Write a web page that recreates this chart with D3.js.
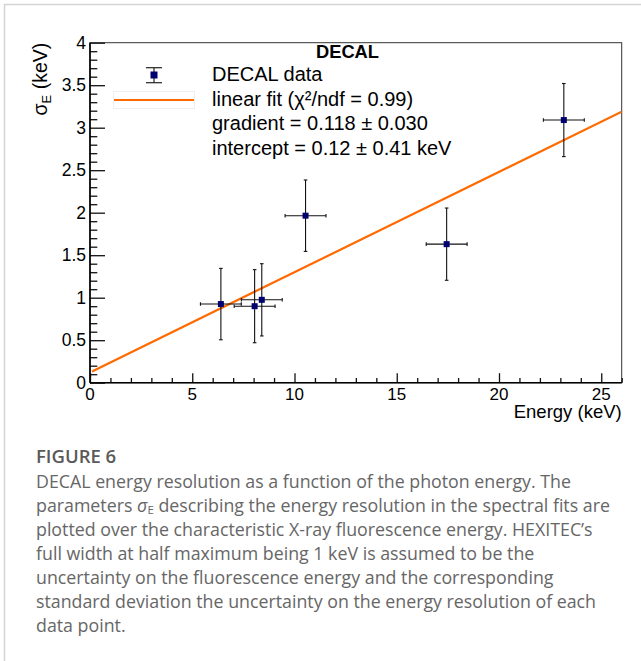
<!DOCTYPE html>
<html>
<head>
<meta charset="utf-8">
<script src="https://cdn.jsdelivr.net/npm/d3@7"></script>
<style>
  body { margin: 0; background: #fff; }
  svg { display: block; }
</style>
</head>
<body>
<div id="chart-area"></div>
<script>
// data
const energy = [6.4, 8.05, 8.4, 10.54, 17.44, 23.17]
const energyErr = [1.0, 1.0, 1.0, 1.0, 1.0, 1.0]
const sigma = [0.925, 0.90, 0.975, 1.965, 1.63, 3.09]
const sigmaErr = [0.42, 0.43, 0.425, 0.42, 0.425, 0.43]
const fitGradient = 0.118
const fitIntercept = 0.12
const xTicks = [0, 5, 10, 15, 20, 25]
const yTicks = [0, 0.5, 1, 1.5, 2, 2.5, 3, 3.5, 4]
const legendLines = ["DECAL data", "linear fit (χ²/ndf = 0.99)", "gradient = 0.118 ± 0.030", "intercept = 0.12 ± 0.41 keV"]
const captionLines = [
  "DECAL energy resolution as a function of the photon energy. The",
  "parameters σE describing the energy resolution in the spectral fits are",
  "plotted over the characteristic X-ray fluorescence energy. HEXITEC’s",
  "full width at half maximum being 1 keV is assumed to be the",
  "uncertainty on the fluorescence energy and the corresponding",
  "standard deviation the uncertainty on the energy resolution of each",
  "data point."
]

const dataset = energy.map((e, i) => ({ x: e, ex: energyErr[i], y: sigma[i], ey: sigmaErr[i] }))

const svgWidth = 641
const svgHeight = 661
const margin = { left: 90, top: 42.7, right: 19.3, bottom: 278.3 }
const chartWidth = svgWidth - margin.left - margin.right
const chartHeight = svgHeight - margin.top - margin.bottom
const rootFont = "'Liberation Sans', Arial, Helvetica, sans-serif"

const svg = d3.select("#chart-area")
  .append("svg")
  .attr("width", svgWidth)
  .attr("height", svgHeight)

// card border
svg.append("path")
  .attr("d", `M4.5,${svgHeight + 2} V4.5 H${svgWidth + 2}`)
  .attr("fill", "none")
  .attr("stroke", "#d4d4d4")
  .attr("stroke-width", 1.5)

const chart = svg.append("g")
  .attr("transform", `translate(${margin.left},${margin.top})`)

const xScale = d3.scaleLinear().domain([0, 26]).range([0, chartWidth])
const yScale = d3.scaleLinear().domain([0, 4]).range([chartHeight, 0])

chart.append("defs").append("clipPath").attr("id", "clip")
  .append("rect").attr("width", chartWidth).attr("height", chartHeight)

// frame
chart.append("rect")
  .attr("width", chartWidth)
  .attr("height", chartHeight)
  .attr("fill", "none")
  .attr("stroke", "#333")
  .attr("stroke-width", 1)

// x axis: major + minor ticks pointing up
const xMinor = d3.range(0, 26.01, 1).filter(v => v % 5 !== 0)
const xAxis = chart.append("g")
  .attr("transform", `translate(0,${chartHeight})`)
xAxis.append("g")
  .call(d3.axisTop(xScale).tickValues(xMinor).tickSize(4.7).tickFormat(""))
xAxis.append("g")
  .call(d3.axisTop(xScale).tickValues(xTicks).tickSize(9.5).tickFormat(""))
xAxis.selectAll(".domain").remove()
xAxis.selectAll("line").attr("stroke", "#111").attr("stroke-width", 1.3)
xAxis.append("g")
  .selectAll("text")
  .data(xTicks)
  .join("text")
  .attr("x", d => xScale(d))
  .attr("y", 400 - margin.top - chartHeight)
  .attr("text-anchor", "middle")
  .attr("font-family", rootFont)
  .attr("font-size", 17)
  .attr("fill", "#000")
  .text(d => d)
xAxis.append("line")
  .attr("x1", 0).attr("x2", chartWidth)
  .attr("stroke", "#000").attr("stroke-width", 1.6)
xAxis.append("text")
  .attr("x", chartWidth)
  .attr("y", 418.5 - margin.top - chartHeight)
  .attr("text-anchor", "end")
  .attr("font-family", rootFont)
  .attr("font-size", 18.5)
  .text("Energy (keV)")

// y axis: major + minor ticks pointing right
const yMinor = d3.range(0, 40.01, 1).filter(v => v % 5 !== 0).map(v => v / 10)
const yAxis = chart.append("g")
yAxis.append("g")
  .call(d3.axisRight(yScale).tickValues(yMinor).tickSize(7.3).tickFormat(""))
yAxis.append("g")
  .call(d3.axisRight(yScale).tickValues(yTicks).tickSize(15).tickFormat(""))
yAxis.selectAll(".domain").remove()
yAxis.selectAll("line").attr("stroke", "#111").attr("stroke-width", 1.3)
yAxis.append("g")
  .selectAll("text")
  .data(yTicks)
  .join("text")
  .attr("x", -4)
  .attr("y", d => yScale(d))
  .attr("dy", "0.36em")
  .attr("text-anchor", "end")
  .attr("font-family", rootFont)
  .attr("font-size", 17.5)
  .text(d => d)
yAxis.append("line")
  .attr("y1", 0).attr("y2", chartHeight)
  .attr("stroke", "#000").attr("stroke-width", 1.6)

const yTitle = svg.append("text")
  .attr("transform", `translate(47,${margin.top}) rotate(-90)`)
  .attr("text-anchor", "end")
  .attr("font-family", rootFont)
  .attr("font-size", 19.5)
yTitle.append("tspan").text("σ")
yTitle.append("tspan").attr("font-size", 13).attr("dy", 4).text("E")
yTitle.append("tspan").attr("dy", -4).text(" (keV)")

// fit line
const fit = x => fitIntercept + fitGradient * x
chart.append("line")
  .attr("clip-path", "url(#clip)")
  .attr("x1", xScale(0.1))
  .attr("y1", yScale(fit(0.1)))
  .attr("x2", xScale(26))
  .attr("y2", yScale(fit(26)))
  .attr("stroke", "#ff6a00")
  .attr("stroke-width", 2.2)

// error bars
const err = chart.append("g")
  .attr("stroke", "#111")
  .attr("stroke-width", 1.1)
const cap = 1.8
err.selectAll(".hbar")
  .data(dataset)
  .join("line")
  .attr("x1", d => xScale(d.x - d.ex))
  .attr("x2", d => xScale(d.x + d.ex))
  .attr("y1", d => yScale(d.y))
  .attr("y2", d => yScale(d.y))
err.selectAll(".vbar")
  .data(dataset)
  .join("line")
  .attr("x1", d => xScale(d.x))
  .attr("x2", d => xScale(d.x))
  .attr("y1", d => yScale(d.y - d.ey))
  .attr("y2", d => yScale(d.y + d.ey))
err.selectAll(".hcap")
  .data(dataset.flatMap(d => [d.x - d.ex, d.x + d.ex].map(x => ({ x, y: d.y }))))
  .join("line")
  .attr("x1", d => xScale(d.x))
  .attr("x2", d => xScale(d.x))
  .attr("y1", d => yScale(d.y) - cap)
  .attr("y2", d => yScale(d.y) + cap)
err.selectAll(".vcap")
  .data(dataset.flatMap(d => [d.y - d.ey, d.y + d.ey].map(y => ({ x: d.x, y }))))
  .join("line")
  .attr("x1", d => xScale(d.x) - cap)
  .attr("x2", d => xScale(d.x) + cap)
  .attr("y1", d => yScale(d.y))
  .attr("y2", d => yScale(d.y))

chart.append("g")
  .attr("fill", "#00006e")
  .selectAll("rect")
  .data(dataset)
  .join("rect")
  .attr("x", d => xScale(d.x) - 3)
  .attr("y", d => yScale(d.y) - 3)
  .attr("width", 6)
  .attr("height", 6)

// legend
const legend = svg.append("g")
legend.append("text")
  .attr("x", 347.5)
  .attr("y", 57.7)
  .attr("text-anchor", "middle")
  .attr("font-family", rootFont)
  .attr("font-weight", "bold")
  .attr("font-size", 18.3)
  .text("DECAL")
legend.append("g")
  .attr("font-family", rootFont)
  .attr("font-size", 20)
  .selectAll("text")
  .data(legendLines)
  .join("text")
  .attr("x", 212)
  .attr("y", (d, i) => 80.7 + i * 24.8)
  .text(d => d)
const lm = legend.append("g").attr("stroke", "#222").attr("stroke-width", 1.2)
lm.append("line").attr("x1", 154).attr("x2", 154).attr("y1", 67.7).attr("y2", 82.7)
lm.append("line").attr("x1", 146).attr("x2", 162).attr("y1", 67.7).attr("y2", 67.7)
lm.append("line").attr("x1", 146).attr("x2", 162).attr("y1", 82.7).attr("y2", 82.7)
legend.append("rect")
  .attr("x", 150.5).attr("y", 71.5).attr("width", 7).attr("height", 7)
  .attr("fill", "#00006e")
legend.append("rect")
  .attr("x", 113.5).attr("y", 91.5).attr("width", 81).attr("height", 17)
  .attr("fill", "none").attr("stroke", "#eeeeee")
legend.append("line")
  .attr("x1", 114).attr("x2", 194).attr("y1", 100).attr("y2", 100)
  .attr("stroke", "#ff6a00").attr("stroke-width", 2.2)

// caption
const caption = svg.append("g")
  .attr("font-family", "'Open Sans', Lato, sans-serif")
caption.append("text")
  .attr("x", 36)
  .attr("y", 462.7)
  .attr("font-weight", 600)
  .attr("font-size", 18.5)
  .attr("fill", "#5a5a5a")
  .text("FIGURE 6")
const capText = caption.append("g")
  .attr("font-size", 17.8)
  .attr("fill", "#666")
  .selectAll("text")
  .data(captionLines)
  .join("text")
  .attr("x", 36)
  .attr("y", (d, i) => 487.7 + i * 24)
capText.each(function (d) {
  const t = d3.select(this)
  const parts = d.split("σE")
  if (parts.length === 1) { t.text(d); return }
  t.append("tspan").text(parts[0])
  t.append("tspan").attr("font-style", "italic").text("σ")
  t.append("tspan").attr("font-size", 11.5).attr("dy", 2).text("E")
  t.append("tspan").attr("dy", -2).text(parts[1])
})
</script>
</body>
</html>
